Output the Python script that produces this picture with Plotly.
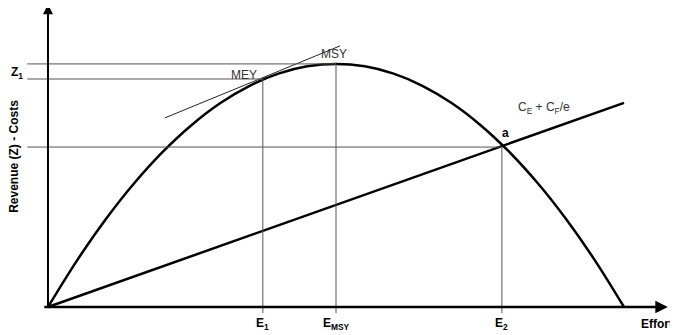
import plotly.graph_objects as go

# Revenue curve (effort in % of the zero-revenue effort)
effort = [0, 5, 10, 15, 20, 25, 30, 35, 40, 45, 50, 55, 60, 65, 70, 75, 80, 85, 90, 95, 100]
revenue = [0, 19, 36, 51, 64, 75, 84, 91, 96, 99, 100, 99, 96, 91, 84, 75, 64, 51, 36, 19, 0]

# Total cost line C_E + C_F/e
cost_effort = [0, 100]
cost_value = [0, 84]

# Tangent at MEY
tangent_effort = [20.3, 50.7]
tangent_value = [77.8, 107.4]

# Key points
E1, EMSY, E2 = 37.3, 50, 78.8
Z1, ZMSY, Za = 93.8, 100, 65.8

x_labels = ["E<sub>1</sub>", "E<sub>MSY</sub>", "E<sub>2</sub>"]

font = "Liberation Sans, Arial, sans-serif"
thin = dict(color="#555555", width=1)

fig = go.Figure()

# Revenue curve
fig.add_trace(go.Scatter(x=effort, y=revenue, mode="lines",
                         line=dict(color="black", width=2.5, shape="spline", smoothing=1),
                         hoverinfo="skip"))
# Cost line
fig.add_trace(go.Scatter(x=cost_effort, y=cost_value, mode="lines",
                         line=dict(color="black", width=2.5), hoverinfo="skip"))
# Tangent
fig.add_trace(go.Scatter(x=tangent_effort, y=tangent_value, mode="lines",
                         line=dict(color="#222222", width=1), hoverinfo="skip"))

# Guide lines
for yv, xe in [(ZMSY, EMSY), (Z1, E1), (Za, E2)]:
    fig.add_shape(type="line", x0=-3.6, x1=xe, y0=yv, y1=yv, line=thin)
for xv, yv in [(E1, Z1), (EMSY, ZMSY), (E2, Za)]:
    fig.add_shape(type="line", x0=xv, x1=xv, y0=yv, y1=-2.5, line=thin)

# Axes drawn as arrows
fig.add_annotation(x=107.6, y=0, ax=-0.9, ay=0, xref="x", yref="y", axref="x", ayref="y",
                   text="", showarrow=True, arrowhead=2, arrowsize=1, arrowwidth=2.5,
                   arrowcolor="black")
fig.add_annotation(x=0, y=124.5, ax=0, ay=-0.6, xref="x", yref="y", axref="x", ayref="y",
                   text="", showarrow=True, arrowhead=2, arrowsize=1, arrowwidth=2,
                   arrowcolor="black")

# Tick labels on effort axis
for xv, lab in zip([E1, EMSY, E2], x_labels):
    fig.add_annotation(x=xv, y=-6.8, text="<b>" + lab + "</b>", showarrow=False,
                       font=dict(size=12, color="black", family=font))

fig.add_annotation(x=102.6, y=-6.8, text="<b>Effort</b>", showarrow=False, xanchor="left",
                   font=dict(size=12, color="black", family=font))
fig.add_annotation(x=-5.4, y=Z1 + 2.5, text="<b>Z<sub>1</sub></b>", showarrow=False,
                   font=dict(size=12, color="black", family=font))
fig.add_annotation(x=-5.8, y=62, text="<b>Revenue (Z) - Costs</b>", showarrow=False,
                   textangle=-90, font=dict(size=12, color="black", family=font))

# Point labels
fig.add_annotation(x=34.0, y=95.5, text="MEY", showarrow=False,
                   font=dict(size=12, color="#333333", family=font))
fig.add_annotation(x=49.7, y=104.0, text="MSY", showarrow=False,
                   font=dict(size=12, color="#333333", family=font))
fig.add_annotation(x=79.5, y=71.5, text="<b>a</b>", showarrow=False,
                   font=dict(size=12, color="black", family=font))
fig.add_annotation(x=86.1, y=82.0, text="C<sub>E</sub> + C<sub>F</sub>/e", showarrow=False,
                   font=dict(size=12, color="#333333", family=font))

# The page body adds an 8px offset, so the ranges are shifted to compensate
fig.update_layout(
    width=678, height=335,
    margin=dict(l=0, r=0, t=0, b=0),
    plot_bgcolor="white", paper_bgcolor="white",
    showlegend=False,
    xaxis=dict(range=[-6.94, 110.76], visible=False, fixedrange=True),
    yaxis=dict(range=[-14.8, 123.0], visible=False, fixedrange=True),
)

fig.write_html("out.html")
